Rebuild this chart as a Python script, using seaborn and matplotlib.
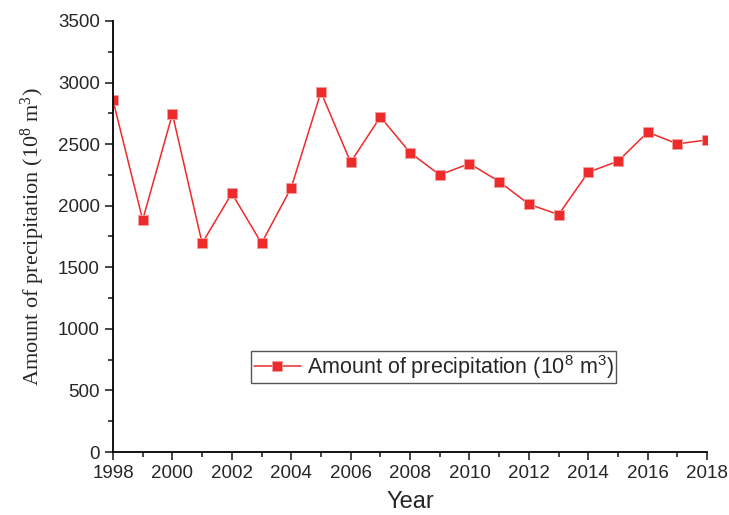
# Annual precipitation line chart, 1998-2018
import seaborn as sns
import matplotlib.pyplot as plt
import pandas as pd
from matplotlib.ticker import MultipleLocator

sns.set_style("ticks")
plt.rcParams['font.family'] = ['Liberation Sans', 'DejaVu Sans']
plt.rcParams['mathtext.default'] = 'regular'

# Data
years = list(range(1998, 2019))
precip = [2855, 1885, 2745, 1695, 2100, 1695, 2147, 2922, 2353, 2721, 2431,
          2250, 2342, 2196, 2012, 1928, 2272, 2361, 2597, 2502, 2534]
series_label = r'Amount of precipitation (10$^8$ m$^3$)'

df = pd.DataFrame({'Year': years, 'Precip': precip})

fig = plt.figure(figsize=(7.29, 5.15), dpi=100)
ax = fig.add_axes([0.155, 0.1223, 0.815, 0.837])

red = '#EE2A2A'
sns.lineplot(data=df, x='Year', y='Precip', ax=ax, color=red, linewidth=1.1,
             marker='s', markersize=7.5, markeredgecolor='#F3A0A0',
             markeredgewidth=0.6, label=series_label)

ax.set_xlim(1998, 2018)
ax.set_ylim(0, 3500)
ax.xaxis.set_major_locator(MultipleLocator(2))
ax.xaxis.set_minor_locator(MultipleLocator(1))
ax.yaxis.set_major_locator(MultipleLocator(500))
ax.yaxis.set_minor_locator(MultipleLocator(250))
ax.tick_params(which='major', length=6, width=1.2, labelsize=13.5, direction='out')
ax.tick_params(which='minor', length=3.5, width=1.2, direction='out')

for side in ['top', 'right']:
    ax.spines[side].set_visible(False)
for side in ['left', 'bottom']:
    ax.spines[side].set_linewidth(1.3)
    ax.spines[side].set_color('black')

ax.set_xlabel('Year', fontsize=17, labelpad=6)
ax.set_ylabel(series_label, fontsize=16, family=['Liberation Serif', 'DejaVu Serif'],
              labelpad=8)

leg = ax.legend(loc='upper left', bbox_to_anchor=(0.233, 0.235), fontsize=15.5,
                frameon=True, fancybox=False, edgecolor='#555555', framealpha=1,
                borderpad=0.1, handlelength=2.2, handletextpad=0.3,
                borderaxespad=0)
leg.get_frame().set_linewidth(1.0)
for t in leg.get_texts():
    t.set_fontstretch('condensed')

fig.savefig('out.png', dpi=100)
